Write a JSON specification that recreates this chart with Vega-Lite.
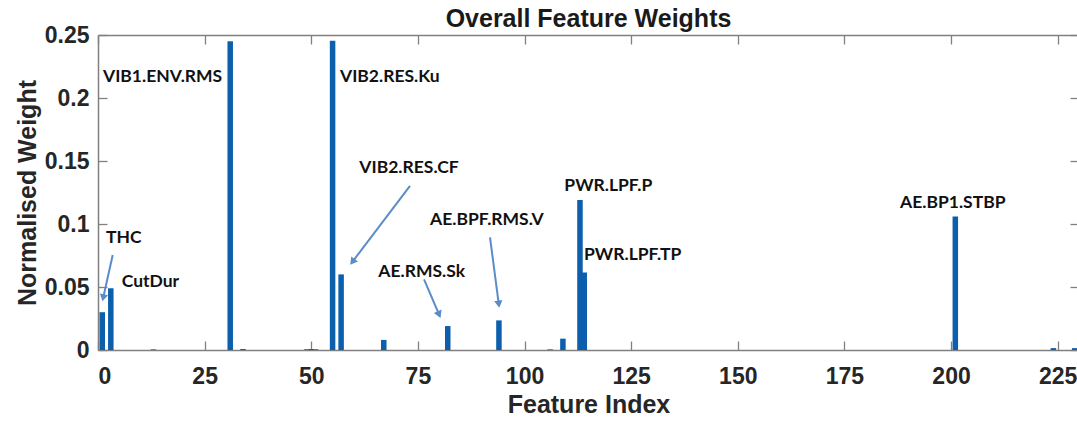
{
  "$schema": "https://vega.github.io/schema/vega-lite/v6.json",
  "autosize": {"type": "none"},
  "padding": {"left": 98, "top": 35, "right": 0, "bottom": 71},
  "width": 981,
  "height": 315,
  "background": "white",
  "title": {"text": "Overall Feature Weights", "font": "Liberation Sans", "fontSize": 25, "fontWeight": "bold", "color": "#1a1a1a", "anchor": "middle", "offset": -8},
  "config": {"view": {"stroke": null}},
  "datasets": {
    "weights": [
      {"feature": 1, "weight": 0.030},
      {"feature": 3, "weight": 0.049},
      {"feature": 13, "weight": 0.0005},
      {"feature": 31, "weight": 0.245},
      {"feature": 34, "weight": 0.0008},
      {"feature": 49, "weight": 0.0006},
      {"feature": 50, "weight": 0.0008},
      {"feature": 51, "weight": 0.0006},
      {"feature": 55, "weight": 0.2455},
      {"feature": 57, "weight": 0.060},
      {"feature": 67, "weight": 0.008},
      {"feature": 82, "weight": 0.019},
      {"feature": 94, "weight": 0.0235},
      {"feature": 106, "weight": 0.0005},
      {"feature": 109, "weight": 0.009},
      {"feature": 113, "weight": 0.119},
      {"feature": 114, "weight": 0.0615},
      {"feature": 201, "weight": 0.106},
      {"feature": 224, "weight": 0.0015},
      {"feature": 229, "weight": 0.0015}
    ],
    "labels": [
      {"label": "THC", "x": 1.88, "y": 0.0889},
      {"label": "CutDur", "x": 5.56, "y": 0.0542},
      {"label": "VIB1.ENV.RMS", "x": 1.17, "y": 0.2169},
      {"label": "VIB2.RES.Ku", "x": 56.74, "y": 0.217},
      {"label": "VIB2.RES.CF", "x": 61.27, "y": 0.1442},
      {"label": "AE.RMS.Sk", "x": 65.72, "y": 0.0622},
      {"label": "AE.BPF.RMS.V", "x": 77.84, "y": 0.1032},
      {"label": "PWR.LPF.P", "x": 109.33, "y": 0.1302},
      {"label": "PWR.LPF.TP", "x": 113.95, "y": 0.0754},
      {"label": "AE.BP1.STBP", "x": 188.04, "y": 0.1164}
    ],
    "arrows": [
      {"name": "THC", "x1": 3.45, "y1": 0.0754, "x2": 1.22, "y2": 0.0414},
      {"name": "VIB2.RES.CF", "x1": 73.15, "y1": 0.1302, "x2": 59.65, "y2": 0.0700},
      {"name": "AE.RMS.Sk", "x1": 76.44, "y1": 0.0561, "x2": 79.98, "y2": 0.0281},
      {"name": "AE.BPF.RMS.V", "x1": 91.91, "y1": 0.0894, "x2": 93.97, "y2": 0.0363}
    ]
  },
  "resolve": {"axis": {"x": "independent", "y": "independent"}},
  "layer": [
    {
      "data": {"name": "weights"},
      "mark": {"type": "bar", "color": "#0b5fad", "size": 5.5, "orient": "vertical"},
      "encoding": {
        "x": {"field": "feature", "type": "quantitative", "scale": {"domain": [0, 230], "nice": false, "zero": false, "padding": 0},
          "axis": {"orient": "bottom", "values": [0, 25, 50, 75, 100, 125, 150, 175, 200, 225], "grid": false,
            "labelFont": "Liberation Sans", "labelFontSize": 23, "labelFontWeight": "bold", "labelColor": "#262626",
            "labelPadding": 24, "tickSize": -9, "tickColor": "#808080", "tickWidth": 1.3, "domainColor": "#808080", "domainWidth": 1.5,
            "title": "Feature Index", "titleFont": "Liberation Sans", "titleFontSize": 25, "titleFontWeight": "bold", "titleColor": "#262626", "titlePadding": 4}},
        "y": {"field": "weight", "type": "quantitative", "scale": {"domain": [0, 0.25], "nice": false, "padding": 0},
          "axis": {"orient": "left", "values": [0, 0.05, 0.1, 0.15, 0.2, 0.25], "format": ".2~f", "grid": false,
            "labelFont": "Liberation Sans", "labelFontSize": 23, "labelFontWeight": "bold", "labelColor": "#262626",
            "labelPadding": 18, "tickSize": -9, "tickColor": "#808080", "tickWidth": 1.3, "domainColor": "#808080", "domainWidth": 1.5,
            "title": "Normalised Weight", "titleFont": "Liberation Sans", "titleFontSize": 25, "titleFontWeight": "bold", "titleColor": "#262626", "titlePadding": 4}}
      }
    },
    {
      "data": {"name": "arrows"},
      "mark": {"type": "rule", "color": "#5b8cc8", "strokeWidth": 2},
      "encoding": {
        "x": {"field": "x1", "type": "quantitative", "axis": null},
        "y": {"field": "y1", "type": "quantitative", "axis": null},
        "x2": {"field": "x2"},
        "y2": {"field": "y2"}
      }
    },
    {
      "data": {"name": "arrows"},
      "transform": [{"filter": "datum.name == 'THC'"}],
      "mark": {"type": "point", "shape": "triangle-up", "filled": true, "color": "#5b8cc8", "opacity": 1, "size": 70, "angle": 192.6},
      "encoding": {"x": {"field": "x2", "type": "quantitative", "axis": null}, "y": {"field": "y2", "type": "quantitative", "axis": null}}
    },
    {
      "data": {"name": "arrows"},
      "transform": [{"filter": "datum.name == 'VIB2.RES.CF'"}],
      "mark": {"type": "point", "shape": "triangle-up", "filled": true, "color": "#5b8cc8", "opacity": 1, "size": 70, "angle": 217.2},
      "encoding": {"x": {"field": "x2", "type": "quantitative", "axis": null}, "y": {"field": "y2", "type": "quantitative", "axis": null}}
    },
    {
      "data": {"name": "arrows"},
      "transform": [{"filter": "datum.name == 'AE.RMS.Sk'"}],
      "mark": {"type": "point", "shape": "triangle-up", "filled": true, "color": "#5b8cc8", "opacity": 1, "size": 70, "angle": 156.8},
      "encoding": {"x": {"field": "x2", "type": "quantitative", "axis": null}, "y": {"field": "y2", "type": "quantitative", "axis": null}}
    },
    {
      "data": {"name": "arrows"},
      "transform": [{"filter": "datum.name == 'AE.BPF.RMS.V'"}],
      "mark": {"type": "point", "shape": "triangle-up", "filled": true, "color": "#5b8cc8", "opacity": 1, "size": 70, "angle": 172.5},
      "encoding": {"x": {"field": "x2", "type": "quantitative", "axis": null}, "y": {"field": "y2", "type": "quantitative", "axis": null}}
    },
    {
      "data": {"name": "labels"},
      "mark": {"type": "text", "align": "left", "baseline": "middle", "font": "Lato", "fontSize": 17.5, "fontWeight": "bold", "color": "#111111"},
      "encoding": {
        "text": {"field": "label"},
        "x": {"field": "x", "type": "quantitative",
          "axis": {"orient": "top", "values": [0, 25, 50, 75, 100, 125, 150, 175, 200, 225], "labels": false, "title": null, "grid": false,
            "tickSize": -9, "tickColor": "#808080", "tickWidth": 1.3, "domainColor": "#808080", "domainWidth": 1.5}},
        "y": {"field": "y", "type": "quantitative",
          "axis": {"orient": "right", "values": [0, 0.05, 0.1, 0.15, 0.2, 0.25], "labels": false, "title": null, "grid": false,
            "tickSize": -9, "tickColor": "#808080", "tickWidth": 1.3, "domainColor": "#808080", "domainWidth": 1.5}}
      }
    }
  ]
}
